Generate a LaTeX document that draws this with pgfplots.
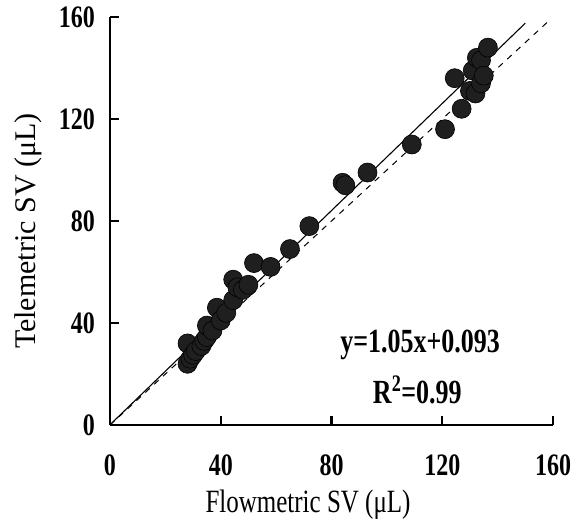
\documentclass[border=0pt]{standalone}
\usepackage{fontspec}
\setmainfont{Liberation Serif}
\usepackage{pgfplots}
\pgfplotsset{compat=1.18}

\begin{document}
\begin{tikzpicture}

% stroke volume: flowmetric (x) vs telemetric (y)
\pgfplotstableread{
fx    ty
28    32
28    24
29    26
30    27.5
31    29
33    31
34    33
35    34.5
35    39
37    37
38.6  46
40    41
42    44
44.5  49
44.5  57
46    54
48    53
50    55
52    63.5
58    62
65    69
72    78
84    95
85    94
93    99
109   110
121   116
124.5 136
127   124
130   131
131   139
132   130
132.5 144
134   134
134   143
136.5 148
135   137
}\svdata

\begin{axis}[
  scale only axis, width=443pt, height=408pt,
  xmin=0, xmax=160, ymin=0, ymax=160,
  axis lines=left, axis line style={-, line width=2.4pt},
  xtick={0,40,...,160}, ytick={0,40,...,160},
  tick align=inside, major tick length=9pt,
  tick style={line width=2.4pt, black},
  /pgf/number format/assume math mode=true,
  xticklabel style={font=\fontsize{24}{24}\selectfont\bfseries, anchor=base, yshift=-50pt, inner sep=0pt},
  yticklabel style={font=\fontsize{24}{24}\selectfont\bfseries, anchor=east, xshift=-15pt, inner sep=0pt},
  xticklabel={\scalebox{1}[1.3]{\pgfmathprintnumber{\tick}}},
  yticklabel={\scalebox{1}[1.3]{\pgfmathprintnumber{\tick}}},
  xlabel={\scalebox{1}[1.3]{Flowmetric SV (μL)}},
  ylabel={Telemetric SV (μL)},
  xlabel style={font=\fontsize{25}{25}\selectfont, at={(axis description cs:0.447,0)}, anchor=base, yshift=-87pt},
  ylabel style={font=\fontsize{30}{30}\selectfont, at={(axis description cs:-0.185,0.475)}, anchor=center},
  clip=false,
]

% line of identity
\addplot[black, line width=1pt, dash pattern=on 6pt off 6pt] coordinates {(0,0) (158,158)};
% regression line
\addplot[black, line width=1.1pt] coordinates {(0,0.093) (150,157.593)};

\addplot[only marks, mark=*, mark size=9.5pt,
  mark options={fill=black!88, draw=black, line width=0.6pt}]
  table[x=fx, y=ty] {\svdata};

\node[font=\fontsize{26}{26}\selectfont\bfseries] at (axis cs:112,31.4)
  {\scalebox{1}[1.3]{y=1.05x+0.093}};
\node[font=\fontsize{26}{26}\selectfont\bfseries] at (axis cs:111,13.7)
  {\scalebox{1}[1.3]{R\textsuperscript{2}=0.99}};

\end{axis}

% keep the reference's white margins
\path (-110pt,-94pt) rectangle (475pt,425pt);
\end{tikzpicture}
\end{document}
